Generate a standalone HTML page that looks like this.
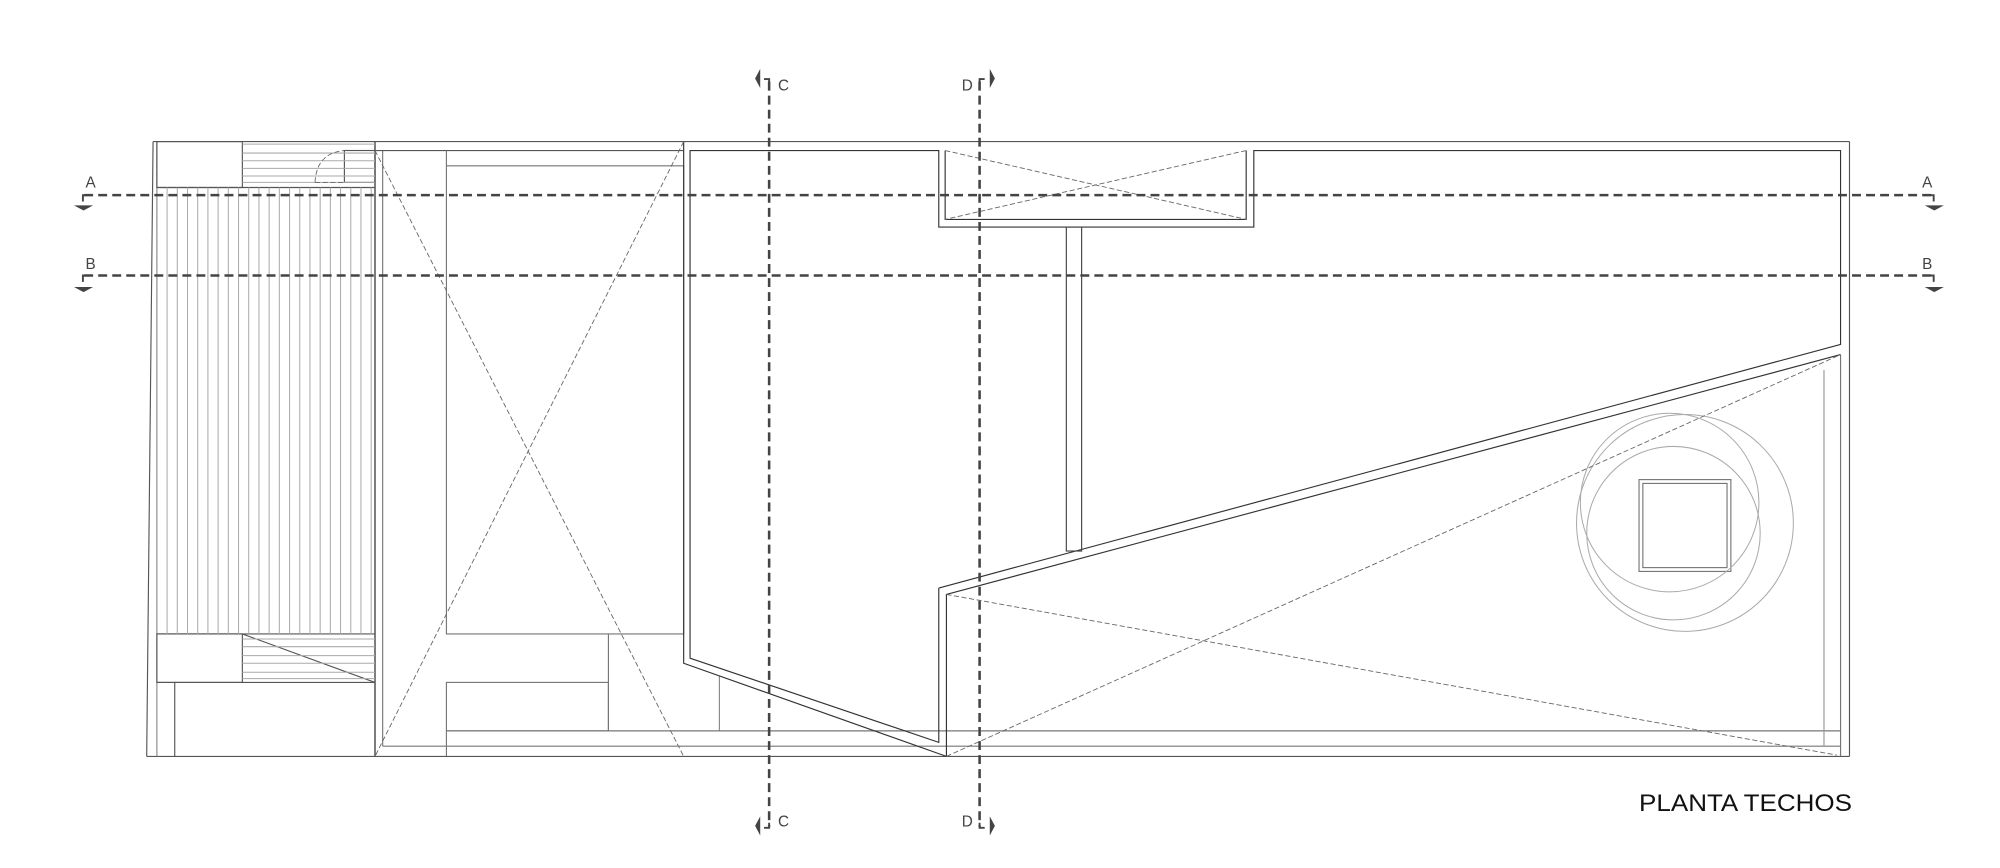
<!DOCTYPE html>
<html><head><meta charset="utf-8"><style>
html,body{margin:0;padding:0;background:#fff;}
svg{display:block;}
text{font-family:"Liberation Sans",sans-serif;fill:#444;}
</style></head><body>
<svg width="2000" height="868" viewBox="0 0 1568 680.5" preserveAspectRatio="none" xmlns="http://www.w3.org/2000/svg">
<g fill="none" stroke="#555" stroke-width="0.9">
<line x1="120" y1="111" x2="1450" y2="111"/>
<line x1="1450" y1="111" x2="1450" y2="593"/>
<line x1="115" y1="593" x2="1450" y2="593"/>
<line x1="120" y1="111" x2="115" y2="593"/>
<line x1="123" y1="111" x2="123" y2="593" stroke="#888"/>
<rect x="123" y="111" width="67" height="36"/>
<rect x="270" y="118" width="24" height="25"/>
<line x1="123" y1="147" x2="294" y2="147"/>
<line x1="123" y1="497" x2="294" y2="497"/>
<rect x="123" y="497" width="67" height="38"/>
<line x1="123" y1="535" x2="294" y2="535"/>
<line x1="137" y1="535" x2="137" y2="593"/>
<line x1="190" y1="497" x2="294" y2="535"/>
<line x1="294" y1="111" x2="294" y2="593" stroke-width="1.2"/>
<line x1="300" y1="118" x2="300" y2="585" stroke="#777"/>
<line x1="294" y1="118" x2="536" y2="118"/>
<rect x="350" y="130" width="186" height="367" stroke="#777"/>
<line x1="350" y1="118" x2="350" y2="130" stroke="#777"/>
<line x1="477" y1="497" x2="477" y2="573" stroke="#777"/>
<rect x="350" y="535" width="127" height="38" stroke="#777"/>
<line x1="350" y1="573" x2="350" y2="593" stroke="#777"/>
<line x1="564" y1="530" x2="564" y2="573" stroke="#888"/>
<line x1="350" y1="573" x2="1443" y2="573" stroke="#777"/>
<line x1="300" y1="585" x2="1443" y2="585" stroke="#777"/>
<line x1="1443" y1="278" x2="1443" y2="593" stroke="#777"/>
<line x1="1430" y1="290" x2="1430" y2="585" stroke="#999"/>
<polyline stroke="#333" points="742,593 536,520 536,111"/>
<polyline stroke="#333" points="736,461 1443,270 1443,118 983,118 983,178 736,178 736,118 541,118 541,516 736,582 736,461"/>
<polyline stroke="#333" points="742,593 742,466 1443,278"/>
<polyline stroke="#333" points="741,118 741,172 977,172 977,118"/>
<rect x="836" y="178" width="12" height="254" stroke="#444"/>
<rect x="1285" y="376" width="72" height="72" stroke="#777"/>
<rect x="1288" y="379" width="66" height="66" stroke="#777"/>
</g>
<g fill="none" stroke="#aaa" stroke-width="0.8">
<line x1="190" y1="113" x2="294" y2="113"/>
<line x1="190" y1="120" x2="294" y2="120"/>
<line x1="190" y1="126" x2="294" y2="126"/>
<line x1="190" y1="132" x2="294" y2="132"/>
<line x1="190" y1="138" x2="294" y2="138"/>
<line x1="190" y1="143" x2="294" y2="143"/>
<line x1="190" y1="501" x2="294" y2="501"/>
<line x1="190" y1="507" x2="294" y2="507"/>
<line x1="190" y1="514" x2="294" y2="514"/>
<line x1="190" y1="520" x2="294" y2="520"/>
<line x1="190" y1="527" x2="294" y2="527"/>
<line x1="190" y1="532" x2="294" y2="532"/>
<path d="M131 147V497M139 147V497M147 147V497M155 147V497M163 147V497M171 147V497M179 147V497M187 147V497M195 147V497M203 147V497M211 147V497M219 147V497M227 147V497M235 147V497M243 147V497M251 147V497M259 147V497M267 147V497M275 147V497M283 147V497M291 147V497"/>
<circle cx="1309" cy="394" r="70"/>
<circle cx="1321" cy="410" r="85"/>
<circle cx="1312" cy="418" r="68"/>
</g>
<g fill="none" stroke="#666" stroke-width="0.7" stroke-dasharray="4,2">
<path d="M247 143 Q248 120 270 118"/>
<line x1="247" y1="143" x2="270" y2="143"/>
<line x1="294" y1="118" x2="536" y2="593"/>
<line x1="536" y1="111" x2="294" y2="593"/>
<line x1="741" y1="118" x2="977" y2="172"/>
<line x1="977" y1="118" x2="741" y2="172"/>
<line x1="742" y1="466" x2="1440" y2="592"/>
<line x1="742" y1="593" x2="1443" y2="278"/>
</g>
<g fill="none" stroke="#444" stroke-width="2" stroke-dasharray="7,4">
<line x1="66" y1="153" x2="1516" y2="153"/>
<line x1="66" y1="216" x2="1516" y2="216"/>
<line x1="603" y1="64" x2="603" y2="648"/>
<line x1="768" y1="64" x2="768" y2="648"/>
</g>
<g fill="#444" stroke="none">
<path d="M58 161h15l-7.5 4z"/><path d="M58 225h15l-7.5 4z"/>
<path d="M1509 161h15l-7.5 4z"/><path d="M1509 225h15l-7.5 4z"/>
<path d="M596 54v15l-4-7.5z"/><path d="M596 640v15l-4-7.5z"/>
<path d="M776 54v15l4-7.5z"/><path d="M776 640v15l4-7.5z"/>
</g>
<g fill="none" stroke="#444" stroke-width="1.5">
<path d="M65 158v-5h3"/><path d="M65 221v-5h3"/>
<path d="M1516 158v-5h-3"/><path d="M1516 221v-5h-3"/>
<path d="M599 62h4v4"/><path d="M599 649h4v-4"/>
<path d="M772 62h-4v4"/><path d="M772 649h-4v-4"/>
</g>
<g font-size="12">
<text x="67" y="147">A</text><text x="67" y="211">B</text>
<text x="1507" y="147">A</text><text x="1507" y="211">B</text>
<text x="610" y="71">C</text><text x="610" y="648">C</text>
<text x="754" y="71">D</text><text x="754" y="648">D</text>
</g>
<text x="1285" y="636" font-size="19" style="fill:#111" textLength="167" lengthAdjust="spacingAndGlyphs">PLANTA TECHOS</text>
</svg>
</body></html>
